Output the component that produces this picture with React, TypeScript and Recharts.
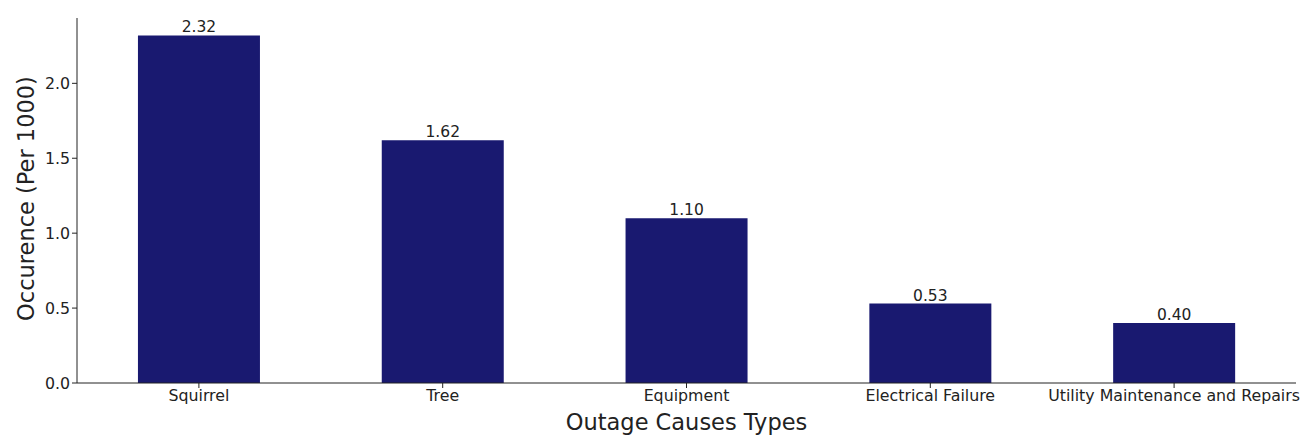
import { Bar, BarChart, LabelList, XAxis, YAxis } from "recharts";

const causes = ["Squirrel", "Tree", "Equipment", "Electrical Failure", "Utility Maintenance and Repairs"];
const occurrence = [2.32, 1.62, 1.1, 0.53, 0.4];
const yTicks = [0, 0.5, 1, 1.5, 2];

const data = causes.map((cause, i) => ({ cause, value: occurrence[i] }));

const font = "'DejaVu Sans', sans-serif";

export default function App() {
  return (
    <div style={{ position: "absolute", left: 0, top: 0, background: "#fff" }}>
      <BarChart
        width={1314}
        height={440}
        data={data}
        margin={{ top: 18, right: 18, left: 0, bottom: 0 }}
        barCategoryGap="25%"
        style={{ fontFamily: font }}
      >
        <XAxis
          dataKey="cause"
          height={57}
          interval={0}
          tickSize={5}
          stroke="#222"
          tick={{ fill: "#222", fontSize: 15.8, fontFamily: font }}
          label={{
            content: ({ viewBox }: any) => (
              <text
                x={viewBox.x + viewBox.width / 2}
                y={430}
                textAnchor="middle"
                fontSize={22.5}
                fontFamily={font}
                fill="#222"
              >
                Outage Causes Types
              </text>
            ),
          }}
        />
        <YAxis
          width={77}
          domain={[0, 2.436]}
          ticks={yTicks}
          tickSize={5}
          stroke="#222"
          tickFormatter={(v: number) => v.toFixed(1)}
          tick={{ fill: "#222", fontSize: 15.8, fontFamily: font }}
          label={{
            content: ({ viewBox }: any) => {
              const cy = viewBox.y + viewBox.height / 2 - 2;
              return (
                <text
                  x={34}
                  y={cy}
                  transform={`rotate(-90 34 ${cy})`}
                  textAnchor="middle"
                  fontSize={22.5}
                  fontFamily={font}
                  fill="#222"
                >
                  Occurence (Per 1000)
                </text>
              );
            },
          }}
        />
        <Bar dataKey="value" fill="#191970" isAnimationActive={false}>
          <LabelList
            dataKey="value"
            position="top"
            offset={3}
            formatter={(v: any) => Number(v).toFixed(2)}
            style={{ fill: "#222", fontSize: 15.5, fontFamily: font }}
          />
        </Bar>
      </BarChart>
    </div>
  );
}
